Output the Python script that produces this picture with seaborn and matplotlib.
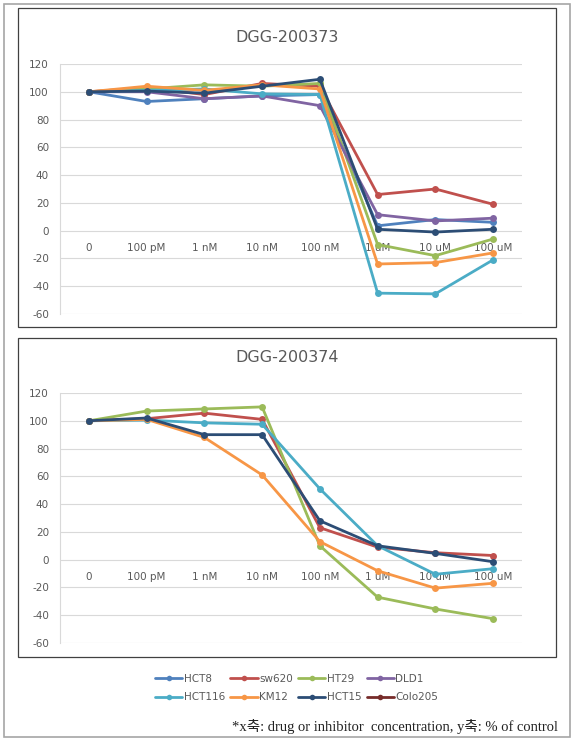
import matplotlib
matplotlib.use("Agg")
import matplotlib.pyplot as plt
from matplotlib.lines import Line2D
from matplotlib.patches import Rectangle
import seaborn as sns
import pandas as pd

W, H = 576, 741

CONCS = ["0", "100 pM", "1 nM", "10 nM", "100 nM", "1 uM", "10 uM", "100 uM"]
LINES = ["HCT8", "sw620", "HT29", "DLD1", "HCT116", "KM12", "HCT15", "Colo205"]
COLORS = {
    "HCT8": "#4F81BD",
    "sw620": "#C0504D",
    "HT29": "#9BBB59",
    "DLD1": "#8064A2",
    "HCT116": "#4BACC6",
    "KM12": "#F79646",
    "HCT15": "#2C4D75",
    "Colo205": "#772C2A",
}

# DGG-200373 (% of control)
a_hct8 = [100, 93, 95, 97, 98, 3.5, 8, 6]
a_sw620 = [100, 103, 98, 106, 104, 26, 30, 19]
a_ht29 = [100, 102, 105, 104, 106, -10, -18, -6]
a_dld1 = [100, 100, 95, 97, 90, 11.5, 7, 9]
a_hct116 = [100, 101, 102, 98.5, 98, -45, -45.5, -21]
a_km12 = [100, 104, 101, 105, 102, -24, -23, -16]
a_hct15 = [100, 100.5, 99, 104, 109, 1, -1, 1]

# DGG-200374 (% of control)
b_sw620 = [100, 101.5, 105.5, 101, 23, 9, 5, 3]
b_ht29 = [100, 107, 108.5, 110, 10, -27, -35.5, -42.5]
b_hct116 = [100, 100.5, 98.5, 97.5, 51, 10, -10.5, -6.5]
b_km12 = [100, 101, 88, 61, 13, -8, -20.5, -17]
b_hct15 = [100, 102, 90, 90, 28, 10, 4.5, -1.5]

CHART_A = {"HCT8": a_hct8, "sw620": a_sw620, "HT29": a_ht29, "DLD1": a_dld1,
           "HCT116": a_hct116, "KM12": a_km12, "HCT15": a_hct15}
CHART_B = {"sw620": b_sw620, "HT29": b_ht29, "HCT116": b_hct116,
           "KM12": b_km12, "HCT15": b_hct15}

GREY = "#595959"


def px(x0, y0, x1, y1):
    return [x0 / W, 1 - y1 / H, (x1 - x0) / W, (y1 - y0) / H]


def long_frame(series):
    rows = []
    for name, vals in series.items():
        for i, v in enumerate(vals):
            rows.append({"line": name, "x": i, "value": v})
    return pd.DataFrame(rows)


def draw_chart(ax, series):
    df = long_frame(series)
    order = [n for n in LINES if n in series]
    for y in range(-60, 121, 20):
        ax.axhline(y, color="#D9D9D9", linewidth=0.8, zorder=0)
    sns.lineplot(data=df, x="x", y="value", hue="line", hue_order=order,
                 palette=COLORS, marker="o", markersize=5, markeredgewidth=0,
                 linewidth=2, sort=False, legend=False, ax=ax)
    ax.set_xlim(-0.5, 7.5)
    ax.set_ylim(-60, 120)
    ax.set_yticks(range(-60, 121, 20))
    ax.set_xticks(range(len(CONCS)))
    ax.set_xticklabels(CONCS)
    ax.set_xlabel("")
    ax.set_ylabel("")
    for s in ["top", "right", "bottom"]:
        ax.spines[s].set_visible(False)
    ax.spines["left"].set_color("#D9D9D9")
    ax.spines["left"].set_linewidth(0.8)
    ax.spines["bottom"].set_position(("data", 0))
    ax.tick_params(axis="both", length=0, labelsize=7.5, labelcolor=GREY)
    ax.tick_params(axis="x", pad=9)
    ax.tick_params(axis="y", pad=8)
    ax.set_facecolor("none")
    ax.grid(False)


sns.set_style("white")
plt.rcParams["axes.unicode_minus"] = False
fig = plt.figure(figsize=(W / 100, H / 100), dpi=100)

fig.patches.append(Rectangle((4 / W, 1 - 737 / H), 566 / W, 733 / H, transform=fig.transFigure,
                             fill=False, edgecolor="#A6A6A6", linewidth=1.2))
fig.patches.append(Rectangle((18 / W, 1 - 327 / H), 538 / W, 319 / H, transform=fig.transFigure,
                             fill=False, edgecolor="#404040", linewidth=0.9))
fig.patches.append(Rectangle((18 / W, 1 - 657 / H), 538 / W, 319 / H, transform=fig.transFigure,
                             fill=False, edgecolor="#404040", linewidth=0.9))

ax1 = fig.add_axes(px(60, 64, 522, 314))
draw_chart(ax1, CHART_A)
ax2 = fig.add_axes(px(60, 393, 522, 643))
draw_chart(ax2, CHART_B)

fig.text(287 / W, 1 - 37 / H, "DGG-200373", ha="center", va="center", fontsize=11.5, color=GREY)
fig.text(287 / W, 1 - 357 / H, "DGG-200374", ha="center", va="center", fontsize=11.5, color=GREY)

handles = {n: Line2D([], [], color=COLORS[n], marker="o", markersize=4, linewidth=2,
                     markeredgewidth=0) for n in LINES}
leg_order = ["HCT8", "HCT116", "sw620", "KM12", "HT29", "HCT15", "DLD1", "Colo205"]
leg = fig.legend([handles[n] for n in leg_order], leg_order, ncol=4,
                 loc="center left", bbox_to_anchor=(146 / W, 1 - 688 / H), frameon=False,
                 fontsize=7.5, handlelength=2.6, handletextpad=0.15, columnspacing=0.5,
                 labelspacing=0.85)
for t in leg.get_texts():
    t.set_color(GREY)

fig.text(558 / W, 1 - 727 / H, "*x축: drug or inhibitor  concentration, y축: % of control",
         ha="right", va="center", fontsize=10.5, color="#222222",
         family=["Liberation Serif", "Noto Sans CJK KR"])

fig.savefig("out.png", dpi=100)
